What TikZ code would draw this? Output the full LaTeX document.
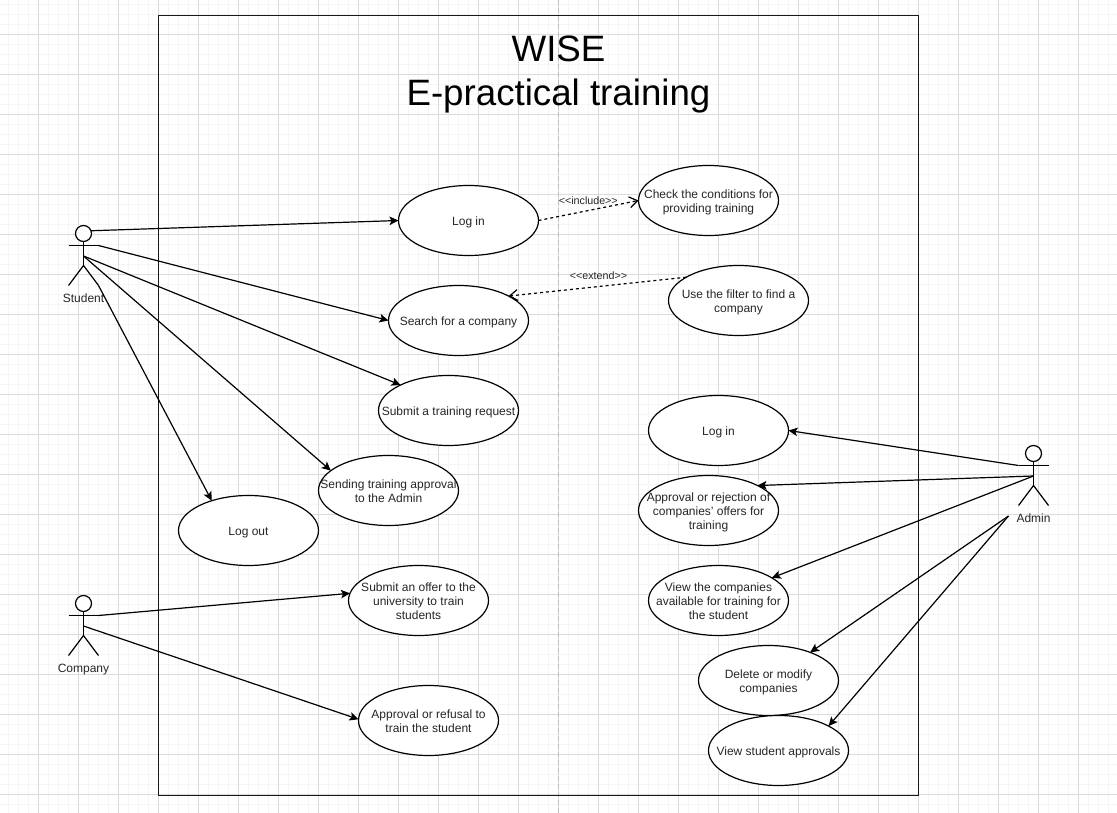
\documentclass[tikz,border=0pt]{standalone}
\usepackage{fontspec}
\setmainfont{Liberation Sans}
\usetikzlibrary{arrows.meta,shapes.geometric}
\newcommand\usetext[1]{\hbox to 0pt{\hss\vbox{\vskip3.5pt\hbox{\begin{tabular}{@{}c@{}}#1\end{tabular}}}\hss}}
\newcommand\drawactor[4]{%
  \begin{scope}[shift={(#2,#3)}]
    \node[actorhead] (#1head) at (0,8) {};
    \coordinate (#1neck) at (0,16);
    \coordinate (#1armL) at (-15,20);
    \coordinate (#1armR) at (15,20);
    \coordinate (#1waist) at (0,30.5);
    \coordinate (#1hip) at (0,40);
    \coordinate (#1footL) at (-15,60);
    \coordinate (#1footR) at (15,60);
    \draw[actorline] (#1neck) -- (#1hip);
    \draw[actorline] (#1armL) -- (#1armR);
    \draw[actorline] (#1footL) -- (#1hip) -- (#1footR);
    \node[lbl,anchor=base] (#1label) at (0,77) {#4};
  \end{scope}}
\tikzset{
  every picture/.style={x=1pt,y=-1pt},
  minorgrid/.style={draw=black!4,line width=1pt},
  majorgrid/.style={draw=black!14,line width=1pt},
  divider/.style={draw=black!25,line width=1pt,dash pattern=on 5pt off 3pt},
  frameline/.style={draw=black!90,line width=1.2pt},
  usecase/.style={ellipse,draw=black,fill=white,line width=1.2pt,minimum width=140pt,minimum height=70pt,inner sep=0pt,outer sep=0pt,font=\fontsize{12}{14}\selectfont,text=black!85},
  actorhead/.style={circle,draw=black,fill=white,line width=1.2pt,minimum size=16pt,inner sep=0pt,outer sep=0pt},
  actorline/.style={draw=black,line width=1.2pt},
  lbl/.style={font=\fontsize{12}{14}\selectfont,text=black!85,inner sep=0pt},
  assoc/.style={draw=black,line width=1.2pt,-{Stealth[length=9pt,width=8.5pt,inset=2pt]}},
  dep/.style={draw=black,line width=1.2pt,dash pattern=on 3pt off 3pt,-{Straight Barb[length=8pt,width=11pt]}},
  deplbl/.style={font=\fontsize{10.7}{12}\selectfont,text=black!85,inner sep=0pt},
  titlelbl/.style={font=\fontsize{36.7}{44}\selectfont,align=center,text=black,inner sep=0pt},
}
\begin{document}
\begin{tikzpicture}
\fill[white] (0,0) rectangle (1117,813);
\useasboundingbox (0,0) rectangle (1117,813);
\foreach \i in {0,...,111} \draw[minorgrid] ({8.5+10*\i},0) -- ({8.5+10*\i},813);
\foreach \i in {0,...,81} \draw[minorgrid] (0,{4.5+10*\i}) -- (1117,{4.5+10*\i});
\foreach \i in {0,...,27} \draw[majorgrid] ({38.5+40*\i},0) -- ({38.5+40*\i},813);
\foreach \i in {0,...,19} \draw[majorgrid] (0,{34.5+40*\i}) -- (1117,{34.5+40*\i});
\draw[divider] (558.5,0) -- (558.5,813);
\draw[frameline] (158.5,15.5) rectangle (918.5,795.5);
\node[titlelbl] (title) at (558.5,74) {WISE\\E-practical training};

\node[usecase] (login) at (468.5,220.5) {\usetext{Log in}};
\node[usecase] (check) at (708.5,200.5) {\usetext{Check the conditions for\\providing training}};
\node[usecase] (filter) at (738.5,300.5) {\usetext{Use the filter to find a\\company}};
\node[usecase] (search) at (458.5,320.5) {\usetext{Search for a company}};
\node[usecase] (submit) at (448.5,410.5) {\usetext{Submit a training request}};
\node[usecase] (adminlogin) at (718.5,430.5) {\usetext{Log in}};
\node[usecase] (approval) at (708.5,510.5) {\usetext{Approval or rejection of\\companies' offers for\\training}};
\node[usecase] (sending) at (388.5,490.5) {\usetext{Sending training approval\\to the Admin}};
\node[usecase] (logout) at (248.5,530.5) {\usetext{Log out}};
\node[usecase] (offer) at (418.5,600.5) {\usetext{Submit an offer to the\\university to train\\students}};
\node[usecase] (view) at (718.5,600.5) {\usetext{View the companies\\available for training for\\the student}};
\node[usecase] (delete) at (768.5,680.5) {\usetext{Delete or modify\\companies}};
\node[usecase] (viewapp) at (778.5,750.5) {\usetext{View student approvals}};
\node[usecase] (refuse) at (428.5,720.5) {\usetext{Approval or refusal to\\train the student}};

\drawactor{stu}{83.5}{225.5}{Student}
\drawactor{com}{83.5}{595.5}{Company}
\drawactor{adm}{1033.5}{445.5}{Admin}
\coordinate (admfree) at (1008.5,516);

\draw[assoc] (stuhead.20) -- (login.west);
\draw[assoc] (stuarmR) -- (search.west);
\draw[assoc] (stuwaist) -- (submit.152);
\draw[assoc] (stuwaist) -- (sending.161);
\draw[assoc] (stufootR) -- (logout.141);
\draw[assoc] (comarmR) -- (offer.174);
\draw[assoc] (comwaist) -- (refuse.179);
\draw[assoc] (admarmL) -- (adminlogin.east);
\draw[assoc] (admwaist) -- (approval.27);
\draw[assoc] (admwaist) -- (view.23);
\draw[assoc] (admfree) -- (delete.34);
\draw[assoc] (admfree) -- (viewapp.26.5);

\draw[dep] (login.east) -- (check.west);
\draw[dep] (filter.156) -- (search.26);
\node[deplbl] (inclbl) at (588.3,201) {<{}<include>{}>};
\node[deplbl] (extlbl) at (598.5,276) {<{}<extend>{}>};
\end{tikzpicture}
\end{document}
